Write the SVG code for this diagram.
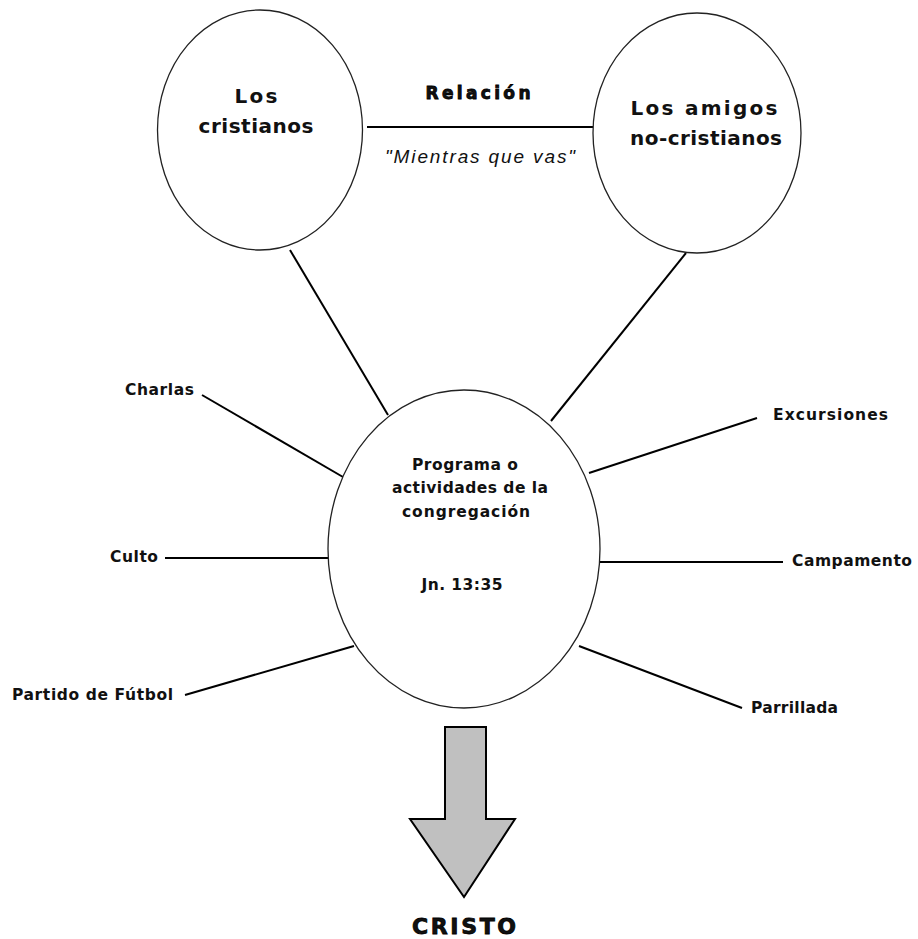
<svg xmlns="http://www.w3.org/2000/svg" width="918" height="939" viewBox="0 0 918 939">
<style>
.node{fill:#fff;stroke:#222;stroke-width:1.3}
.conn line{stroke:#000;stroke-width:2}
text{font-family:"DejaVu Sans","Liberation Sans",Arial,sans-serif;font-weight:bold;fill:#111}
.big{font-size:20px}
.lbl{font-size:15.5px}
.heavy{font-family:"DejaVu Sans","Liberation Sans",sans-serif;font-weight:bold;stroke:#000;stroke-width:0.8}
.it{font-family:"Liberation Sans",Arial,sans-serif;font-weight:normal;font-style:italic;font-size:19px}
</style>
<rect width="918" height="939" fill="#fff"/>
<g class="conn" id="connectors">
<line x1="367" y1="127" x2="593" y2="127"/>
<line x1="290" y1="250" x2="388" y2="415"/>
<line x1="686" y1="253" x2="551" y2="421"/>
<line x1="202" y1="395" x2="343" y2="477"/>
<line x1="165" y1="558" x2="328" y2="558"/>
<line x1="185" y1="695" x2="354" y2="646"/>
<line x1="589" y1="473" x2="757" y2="418"/>
<line x1="600" y1="562" x2="783" y2="562"/>
<line x1="579" y1="646" x2="742" y2="708"/>
</g>
<g id="cristianos">
<ellipse class="node" cx="260" cy="130" rx="102.5" ry="120"/>
<text class="big" x="256" y="103" text-anchor="middle" textLength="43" lengthAdjust="spacing">Los</text>
<text class="big" x="256" y="133" text-anchor="middle" textLength="115" lengthAdjust="spacing">cristianos</text>
</g>
<g id="amigos">
<ellipse class="node" cx="697" cy="133" rx="104" ry="120"/>
<text class="big" x="704" y="115" text-anchor="middle" textLength="147" lengthAdjust="spacing">Los amigos</text>
<text class="big" x="706" y="145" text-anchor="middle" textLength="152" lengthAdjust="spacing">no-cristianos</text>
</g>
<g id="relacion">
<text class="heavy" x="478" y="99" font-size="17" text-anchor="middle" textLength="105" lengthAdjust="spacing">Relación</text>
<text class="it" x="480" y="163" text-anchor="middle" textLength="190" lengthAdjust="spacing">"Mientras que vas"</text>
</g>
<g id="programa">
<ellipse class="node" cx="464" cy="549" rx="136" ry="159"/>
<text class="lbl" x="465" y="470" text-anchor="middle" textLength="106" lengthAdjust="spacing">Programa o</text>
<text class="lbl" x="470" y="493" text-anchor="middle" textLength="156" lengthAdjust="spacing">actividades de la</text>
<text class="lbl" x="466" y="517" text-anchor="middle" textLength="128" lengthAdjust="spacing">congregación</text>
<text class="lbl" x="462" y="590" text-anchor="middle" textLength="81" lengthAdjust="spacing">Jn. 13:35</text>
</g>
<g id="charlas"><text class="lbl" x="125" y="395" textLength="69" lengthAdjust="spacing">Charlas</text></g>
<g id="culto"><text class="lbl" x="110" y="562" textLength="48" lengthAdjust="spacing">Culto</text></g>
<g id="partido"><text class="lbl" x="12" y="700" textLength="161" lengthAdjust="spacing">Partido de Fútbol</text></g>
<g id="excursiones"><text class="lbl" x="773" y="420" textLength="115" lengthAdjust="spacing">Excursiones</text></g>
<g id="campamento"><text class="lbl" x="792" y="566" textLength="120" lengthAdjust="spacing">Campamento</text></g>
<g id="parrillada"><text class="lbl" x="751" y="713" textLength="87" lengthAdjust="spacing">Parrillada</text></g>
<g id="cristo">
<polygon points="445,727 486,727 486,819 515,819 464,897 410,819 445,819" fill="#c0c0c0" stroke="#000" stroke-width="2" stroke-linejoin="miter"/>
<text class="heavy" x="464" y="934" font-size="22" text-anchor="middle" textLength="104" lengthAdjust="spacing">CRISTO</text>
</g>
</svg>
